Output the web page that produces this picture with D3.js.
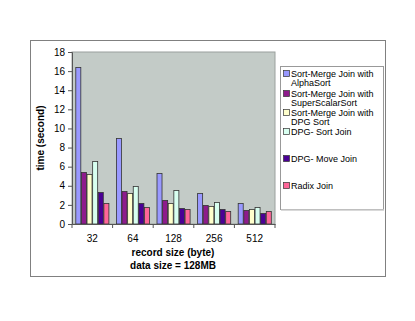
<!DOCTYPE html>
<html>
<head>
<meta charset="utf-8">
<script src="https://cdn.jsdelivr.net/npm/d3@7"></script>
<style>
  body { margin: 0; background: #fff; }
  svg { font-family: "Liberation Sans", Arial, sans-serif; }
</style>
</head>
<body>
<svg id="chart" width="415" height="321"></svg>
<script>
const recordSizes = ['32', '64', '128', '256', '512'];
const seriesNames = [
  ['Sort-Merge Join with', 'AlphaSort'],
  ['Sort-Merge Join with', 'SuperScalarSort'],
  ['Sort-Merge Join with', 'DPG Sort'],
  ['DPG- Sort Join'],
  ['DPG- Move Join'],
  ['Radix  Join'],
];
const alphaSort = [16.4, 9.05, 5.3, 3.2, 2.2];
const superScalarSort = [5.45, 3.45, 2.48, 2.0, 1.46];
const dpgSort = [5.25, 3.28, 2.2, 1.86, 1.57];
const dpgSortJoin = [6.58, 3.98, 3.56, 2.3, 1.74];
const dpgMoveJoin = [3.38, 2.2, 1.67, 1.57, 1.13];
const radixJoin = [2.18, 1.78, 1.57, 1.36, 1.36];
const yTicks = [0, 2, 4, 6, 8, 10, 12, 14, 16, 18];
const colors = ['#9999ff', '#8e1b8c', '#ffffcc', '#d8fff0', '#4b0096', '#ff6699'];

const series = [alphaSort, superScalarSort, dpgSort, dpgSortJoin, dpgMoveJoin, radixJoin];

const svg = d3.select('#chart');
const plot = { left: 72, right: 275, top: 52, bottom: 224 };

// outer frame
svg.append('rect')
  .attr('x', 30.5).attr('y', 40.5).attr('width', 355).attr('height', 236)
  .attr('fill', '#fff').attr('stroke', '#808080').attr('stroke-width', 1);

// plot background
svg.append('rect')
  .attr('x', plot.left).attr('y', plot.top)
  .attr('width', plot.right - plot.left).attr('height', plot.bottom - plot.top)
  .attr('fill', '#c3cbc7').attr('stroke', '#9aa09d');

const x0 = d3.scaleBand().domain(recordSizes).range([plot.left, plot.right]);
const x1 = d3.scaleBand().domain(d3.range(series.length))
  .range([3.3, x0.bandwidth() - 3.6]);
const y = d3.scaleLinear().domain([0, 18]).range([plot.bottom, plot.top]);

// bars
const groups = svg.append('g').selectAll('g')
  .data(recordSizes)
  .join('g')
  .attr('transform', d => `translate(${x0(d)},0)`);

groups.selectAll('rect')
  .data((d, i) => series.map((s, k) => ({ k, v: s[i] })))
  .join('rect')
  .attr('x', d => x1(d.k) + 0.5)
  .attr('y', d => Math.round(y(d.v)) + 0.5)
  .attr('width', x1.bandwidth() - 0.6)
  .attr('height', d => plot.bottom - Math.round(y(d.v)) - 0.5)
  .attr('fill', d => colors[d.k])
  .attr('stroke', '#333')
  .attr('stroke-width', 0.8);

// y axis
const yAxis = svg.append('g')
  .attr('transform', `translate(${plot.left},0)`)
  .call(d3.axisLeft(y).tickValues(yTicks).tickSize(4).tickPadding(3));
yAxis.select('.domain').attr('stroke', '#555');
yAxis.selectAll('.tick line').attr('stroke', '#555');
yAxis.selectAll('text').attr('font-size', 10).attr('fill', '#000')
  .attr('font-family', '"Liberation Sans", Arial, sans-serif');

// x axis: ticks at category boundaries
const xAxis = svg.append('g')
  .attr('transform', `translate(0,${plot.bottom})`)
  .call(d3.axisBottom(x0).tickSize(0).tickPadding(11));
xAxis.select('.domain').attr('stroke', '#555');
xAxis.selectAll('text').attr('font-size', 10).attr('fill', '#000')
  .attr('font-family', '"Liberation Sans", Arial, sans-serif');
xAxis.selectAll('line.sep')
  .data(d3.range(recordSizes.length + 1))
  .join('line')
  .attr('class', 'sep')
  .attr('x1', i => plot.left + i * x0.bandwidth())
  .attr('x2', i => plot.left + i * x0.bandwidth())
  .attr('y1', 0).attr('y2', 4)
  .attr('stroke', '#555');

// axis titles
svg.append('text')
  .attr('transform', 'translate(44,138) rotate(-90)')
  .attr('text-anchor', 'middle')
  .attr('font-size', 10).attr('font-weight', 'bold')
  .text('time (second)');
svg.append('text')
  .attr('x', 173).attr('y', 256)
  .attr('text-anchor', 'middle')
  .attr('font-size', 10).attr('font-weight', 'bold')
  .text('record size (byte)');
svg.append('text')
  .attr('x', 173).attr('y', 269)
  .attr('text-anchor', 'middle')
  .attr('font-size', 10).attr('font-weight', 'bold')
  .text('data size = 128MB');

// legend
const legend = svg.append('g');
legend.append('rect')
  .attr('x', 280.5).attr('y', 66.5).attr('width', 103).attr('height', 143)
  .attr('fill', '#fff').attr('stroke', '#999');
legend.append('line')
  .attr('x1', 281).attr('x2', 384).attr('y1', 210).attr('y2', 210)
  .attr('stroke', '#ccc').attr('stroke-width', 1.5);

const legendY = [74, 94, 113, 132, 159, 186];
const items = legend.selectAll('g.item')
  .data(seriesNames)
  .join('g')
  .attr('class', 'item')
  .attr('transform', (d, i) => `translate(283,${legendY[i]})`);
items.append('rect')
  .attr('x', 0.5).attr('y', -3.5).attr('width', 6).attr('height', 6)
  .attr('fill', (d, i) => colors[i])
  .attr('stroke', '#333').attr('stroke-width', 0.7);
items.selectAll('text')
  .data(d => d)
  .join('text')
  .attr('x', 8)
  .attr('y', (d, j) => 3 + j * 9.4)
  .attr('font-size', 9)
  .text(d => d);
</script>
</body>
</html>
